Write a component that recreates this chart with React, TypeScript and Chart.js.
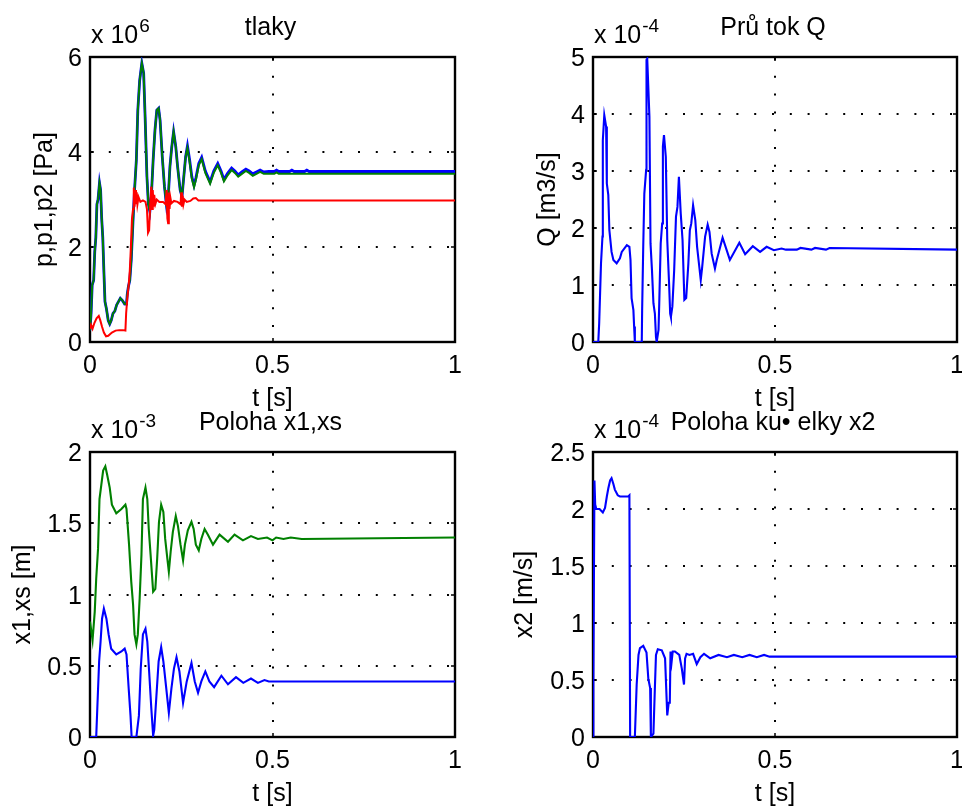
import React, { useEffect, useRef } from "react";
import { Chart, registerables } from "chart.js";
Chart.register(...registerables);

const FONT = '"Liberation Sans", Arial, Helvetica, sans-serif';

// ---- tlaky (x 10^6 Pa) ----
const pT = [0, 0.003, 0.006, 0.01, 0.013, 0.016, 0.019, 0.022, 0.026, 0.029, 0.032, 0.035, 0.038, 0.041, 0.045, 0.05, 0.054, 0.058, 0.063, 0.068, 0.073, 0.078, 0.083, 0.089, 0.095, 0.1, 0.102, 0.105, 0.109, 0.113, 0.118, 0.122, 0.127, 0.131, 0.136, 0.142, 0.147, 0.151, 0.156, 0.16, 0.164, 0.168, 0.173, 0.178, 0.183, 0.188, 0.192, 0.198, 0.204, 0.21, 0.214, 0.219, 0.224, 0.229, 0.235, 0.24, 0.247, 0.252, 0.257, 0.262, 0.267, 0.273, 0.279, 0.285, 0.29, 0.298, 0.306, 0.316, 0.329, 0.339, 0.35, 0.359, 0.367, 0.377, 0.388, 0.397, 0.406, 0.416, 0.427, 0.436, 0.446, 0.456, 0.466, 0.476, 0.49, 0.505, 0.511, 0.517, 0.547, 0.553, 0.559, 0.588, 0.594, 0.6, 1.0];
const pVals = [0.25, 0.6, 1.2, 1.3, 1.9, 2.2, 2.9, 3.0, 3.35, 3.2, 2.6, 2.2, 1.5, 0.85, 0.7, 0.45, 0.38, 0.45, 0.6, 0.65, 0.78, 0.85, 0.92, 0.87, 0.8, 0.8, 1.0, 1.16, 1.3, 1.73, 2.57, 3.2, 3.83, 4.88, 5.5, 5.87, 5.66, 4.74, 3.48, 2.9, 2.75, 3.06, 3.83, 4.46, 4.88, 4.92, 4.67, 3.9, 3.27, 2.85, 3.0, 3.69, 4.11, 4.43, 4.11, 3.69, 3.2, 3.06, 3.48, 3.9, 4.13, 3.83, 3.48, 3.3, 3.45, 3.76, 3.89, 3.6, 3.37, 3.6, 3.76, 3.6, 3.42, 3.55, 3.66, 3.6, 3.52, 3.58, 3.64, 3.6, 3.54, 3.58, 3.62, 3.58, 3.59, 3.59, 3.62, 3.59, 3.59, 3.62, 3.59, 3.59, 3.62, 3.59, 3.59];
const p1Vals = [0.25, 0.6, 1.2, 1.3, 1.9, 2.2, 2.9, 3.0, 3.35, 3.2, 2.6, 2.2, 1.5, 0.85, 0.7, 0.45, 0.38, 0.45, 0.6, 0.65, 0.78, 0.85, 0.92, 0.87, 0.8, 0.8, 1.0, 1.16, 1.3, 1.73, 2.57, 3.2, 3.83, 4.88, 5.5, 5.87, 5.66, 4.74, 3.48, 2.9, 2.75, 3.06, 3.83, 4.46, 4.88, 4.92, 4.67, 3.9, 3.27, 2.85, 3.0, 3.69, 4.11, 4.43, 4.11, 3.69, 3.2, 3.06, 3.48, 3.9, 4.09, 3.79, 3.44, 3.26, 3.41, 3.72, 3.85, 3.56, 3.33, 3.56, 3.72, 3.56, 3.38, 3.51, 3.62, 3.56, 3.48, 3.54, 3.6, 3.56, 3.5, 3.54, 3.58, 3.54, 3.54, 3.54, 3.57, 3.54, 3.54, 3.54, 3.54, 3.54, 3.54, 3.54, 3.54];
const p2T = [0, 0.003, 0.007, 0.012, 0.018, 0.024, 0.028, 0.033, 0.038, 0.044, 0.05, 0.06, 0.07, 0.08, 0.09, 0.097, 0.099, 0.102, 0.106, 0.109, 0.112, 0.115, 0.118, 0.12, 0.122, 0.124, 0.126, 0.128, 0.13, 0.133, 0.138, 0.145, 0.152, 0.156, 0.159, 0.162, 0.165, 0.168, 0.17, 0.172, 0.174, 0.176, 0.179, 0.183, 0.19, 0.2, 0.207, 0.21, 0.212, 0.214, 0.216, 0.218, 0.22, 0.223, 0.23, 0.24, 0.248, 0.25, 0.252, 0.254, 0.256, 0.259, 0.265, 0.275, 0.283, 0.29, 0.297, 1.0];
const p2Vals = [0.28, 0.36, 0.28, 0.4, 0.5, 0.55, 0.46, 0.32, 0.2, 0.12, 0.13, 0.2, 0.24, 0.25, 0.25, 0.24, 0.6, 0.9, 1.2, 1.5, 2.0, 2.6, 2.8, 3.25, 2.85, 3.2, 2.9, 3.15, 2.9, 3.05, 2.95, 2.98, 2.95, 2.8, 2.3, 2.35, 2.9, 3.27, 2.8, 3.2, 2.85, 3.1, 2.9, 3.0, 2.95, 2.95, 2.9, 3.2, 2.6, 2.5, 3.15, 2.8, 3.05, 2.92, 2.97, 2.95, 2.9, 3.15, 2.85, 3.08, 2.9, 3.0, 2.95, 2.97, 3.02, 3.03, 2.98, 2.98];

// ---- Průtok Q (x 10^-4 m3/s) ----
const qT = [0, 0.0145, 0.017, 0.022, 0.026, 0.027, 0.031, 0.036, 0.038, 0.042, 0.045, 0.051, 0.056, 0.065, 0.074, 0.079, 0.093, 0.1, 0.103, 0.106, 0.111, 0.113, 0.115, 0.134, 0.135, 0.138, 0.141, 0.146, 0.147, 0.149, 0.155, 0.158, 0.162, 0.166, 0.17, 0.173, 0.175, 0.18, 0.182, 0.186, 0.19, 0.192, 0.195, 0.2, 0.204, 0.209, 0.212, 0.214, 0.218, 0.223, 0.228, 0.232, 0.236, 0.241, 0.246, 0.251, 0.256, 0.262, 0.266, 0.27, 0.275, 0.281, 0.286, 0.292, 0.296, 0.3, 0.308, 0.315, 0.32, 0.326, 0.335, 0.34, 0.356, 0.376, 0.402, 0.418, 0.439, 0.459, 0.477, 0.497, 0.518, 0.53, 0.56, 0.57, 0.6, 0.61, 0.64, 0.65, 1.0];
const qVals = [0, 0, 0.33, 1.38, 1.85, 3.54, 3.98, 3.78, 2.78, 2.58, 1.96, 1.58, 1.44, 1.38, 1.47, 1.58, 1.7, 1.67, 1.44, 0.77, 0.56, 0.27, 0, 0, 0.56, 1.67, 2.6, 3.02, 4.95, 4.97, 3.95, 1.73, 1.26, 0.68, 0.5, 0.09, 0, 0.21, 0.68, 1.73, 2.08, 3.43, 3.63, 3.25, 1.79, 1.03, 0.5, 0.44, 0.62, 1.26, 2.2, 2.37, 2.9, 2.26, 1.79, 0.74, 0.77, 1.38, 1.96, 2.08, 2.4, 2.14, 1.67, 1.32, 1.09, 1.32, 1.85, 2.06, 1.93, 1.55, 1.29, 1.44, 1.83, 1.44, 1.74, 1.54, 1.68, 1.58, 1.67, 1.61, 1.64, 1.62, 1.62, 1.65, 1.62, 1.65, 1.62, 1.65, 1.62];

// ---- Poloha x1, xs (x 10^-3 m) ----
const x1T = [0, 0.017, 0.02, 0.025, 0.029, 0.033, 0.038, 0.045, 0.051, 0.058, 0.072, 0.086, 0.095, 0.1, 0.106, 0.111, 0.114, 0.127, 0.134, 0.139, 0.145, 0.152, 0.157, 0.162, 0.168, 0.173, 0.176, 0.182, 0.188, 0.195, 0.201, 0.209, 0.216, 0.223, 0.23, 0.237, 0.245, 0.255, 0.265, 0.278, 0.287, 0.296, 0.305, 0.316, 0.327, 0.34, 0.36, 0.378, 0.4, 0.42, 0.441, 0.46, 0.478, 0.49, 1.0];
const x1Vals = [0, 0, 0.2, 0.53, 0.67, 0.83, 0.9, 0.83, 0.72, 0.62, 0.58, 0.6, 0.62, 0.58, 0.34, 0.15, 0, 0, 0.15, 0.48, 0.72, 0.76, 0.67, 0.46, 0.2, 0.01, 0.05, 0.29, 0.53, 0.63, 0.53, 0.34, 0.17, 0.34, 0.48, 0.56, 0.46, 0.24, 0.39, 0.52, 0.39, 0.31, 0.39, 0.46, 0.39, 0.35, 0.43, 0.37, 0.42, 0.38, 0.41, 0.38, 0.4, 0.39, 0.39];
const xsT = [0, 0.007, 0.013, 0.017, 0.022, 0.026, 0.031, 0.036, 0.042, 0.047, 0.054, 0.06, 0.072, 0.086, 0.097, 0.1, 0.107, 0.113, 0.118, 0.122, 0.127, 0.131, 0.136, 0.141, 0.145, 0.152, 0.157, 0.161, 0.166, 0.173, 0.179, 0.184, 0.189, 0.195, 0.201, 0.206, 0.212, 0.216, 0.221, 0.227, 0.235, 0.241, 0.248, 0.255, 0.26, 0.268, 0.278, 0.284, 0.29, 0.298, 0.305, 0.314, 0.323, 0.337, 0.355, 0.378, 0.396, 0.419, 0.441, 0.46, 0.485, 0.5, 0.51, 0.53, 0.55, 0.58, 1.0];
const xsVals = [0.81, 0.68, 0.88, 1.11, 1.32, 1.67, 1.77, 1.87, 1.9, 1.84, 1.75, 1.63, 1.57, 1.6, 1.63, 1.6, 1.35, 1.09, 0.93, 0.72, 0.65, 0.72, 0.97, 1.28, 1.67, 1.75, 1.67, 1.46, 1.28, 1.02, 1.04, 1.25, 1.51, 1.63, 1.58, 1.39, 1.25, 1.16, 1.3, 1.44, 1.55, 1.48, 1.35, 1.24, 1.35, 1.45, 1.51, 1.46, 1.35, 1.31, 1.39, 1.46, 1.42, 1.35, 1.42, 1.37, 1.42, 1.38, 1.41, 1.39, 1.4, 1.38, 1.4, 1.39, 1.4, 1.39, 1.4];

// ---- Poloha kuželky x2 (x 10^-4) ----
const x2T = [0, 0.001, 0.004, 0.006, 0.009, 0.018, 0.027, 0.033, 0.038, 0.042, 0.047, 0.051, 0.056, 0.06, 0.068, 0.074, 0.097, 0.1, 0.102, 0.115, 0.12, 0.125, 0.129, 0.138, 0.147, 0.152, 0.157, 0.159, 0.166, 0.17, 0.173, 0.178, 0.189, 0.198, 0.204, 0.208, 0.211, 0.213, 0.216, 0.219, 0.225, 0.237, 0.244, 0.25, 0.253, 0.257, 0.265, 0.275, 0.285, 0.295, 0.305, 0.322, 0.345, 0.368, 0.387, 0.41, 0.43, 0.45, 0.47, 0.485, 1.0];
const x2Vals = [0, 0.5, 2.25, 2.04, 2.0, 2.0, 1.97, 2.01, 2.11, 2.18, 2.25, 2.27, 2.22, 2.17, 2.12, 2.11, 2.11, 2.12, 0, 0, 0.46, 0.72, 0.78, 0.8, 0.74, 0.51, 0.43, 0, 0.03, 0.43, 0.72, 0.77, 0.76, 0.69, 0.19, 0.3, 0.3, 0.75, 0.66, 0.75, 0.75, 0.72, 0.6, 0.46, 0.69, 0.73, 0.72, 0.73, 0.64, 0.7, 0.73, 0.69, 0.72, 0.7, 0.72, 0.7, 0.72, 0.7, 0.72, 0.705, 0.705];

const xTicks = [0, 0.5, 1];

type Series = { t: number[]; v: number[]; color: string; width: number; order: number };
type PanelCfg = {
  left: number; top: number; width: number; height: number;
  padTop: number; padRight: number; yAxisW: number; xAxisH: number;
  yMax: number; yStep: number;
  title: string; expo: string; ylabel: string; ylabelOff: number;
  series: Series[];
};

const BLUE = "#0000ff";
const GREEN = "#008000";
const RED = "#ff0000";

const panels: PanelCfg[] = [
  {
    left: 0, top: 0, width: 481, height: 420, padTop: 57, padRight: 26, yAxisW: 90, xAxisH: 78,
    yMax: 6, yStep: 2, title: "tlaky", expo: "6", ylabel: "p,p1,p2 [Pa]", ylabelOff: 38,
    series: [
      { t: pT, v: pVals, color: BLUE, width: 2.8, order: 3 },
      { t: pT, v: p1Vals, color: GREEN, width: 2.0, order: 2 },
      { t: p2T, v: p2Vals, color: RED, width: 2.0, order: 1 },
    ],
  },
  {
    left: 481, top: 0, width: 481, height: 420, padTop: 57, padRight: 5, yAxisW: 112, xAxisH: 78,
    yMax: 5, yStep: 1, title: "Prů tok Q", expo: "-4", ylabel: "Q [m3/s]", ylabelOff: 38,
    series: [{ t: qT, v: qVals, color: BLUE, width: 2.1, order: 1 }],
  },
  {
    left: 0, top: 400, width: 481, height: 407, padTop: 52, padRight: 26, yAxisW: 90, xAxisH: 70,
    yMax: 2, yStep: 0.5, title: "Poloha x1,xs", expo: "-3", ylabel: "x1,xs [m]", ylabelOff: 60,
    series: [
      { t: x1T, v: x1Vals, color: BLUE, width: 2.1, order: 2 },
      { t: xsT, v: xsVals, color: GREEN, width: 2.1, order: 1 },
    ],
  },
  {
    left: 481, top: 400, width: 481, height: 407, padTop: 52, padRight: 5, yAxisW: 112, xAxisH: 70,
    yMax: 2.5, yStep: 0.5, title: "Poloha ku\u2022 elky x2", expo: "-4", ylabel: "x2 [m/s]", ylabelOff: 61,
    series: [{ t: x2T, v: x2Vals, color: BLUE, width: 2.1, order: 1 }],
  },
];

const fmt = (v: number) => String(Math.round(v * 100) / 100);

function Panel({ cfg }: { cfg: PanelCfg }) {
  const ref = useRef<HTMLCanvasElement>(null);
  useEffect(() => {
    const canvas = ref.current;
    if (!canvas) return;
    const plugin = {
      id: "matlabAxes",
      beforeDatasetsDraw(chart: any) {
        const { ctx, chartArea: a, scales } = chart;
        const xs = scales.x;
        const ys = scales.y;
        ctx.save();
        ctx.strokeStyle = "#000";
        ctx.lineWidth = 2;
        ctx.setLineDash([2, 15.8]);
        ctx.lineDashOffset = -1;
        ys.ticks.forEach((t: any) => {
          if (t.value <= ys.min || t.value >= ys.max) return;
          const y = Math.round(ys.getPixelForValue(t.value));
          ctx.beginPath();
          ctx.moveTo(a.left, y);
          ctx.lineTo(a.right, y);
          ctx.stroke();
        });
        xs.ticks.forEach((t: any) => {
          if (t.value <= xs.min || t.value >= xs.max) return;
          const x = Math.round(xs.getPixelForValue(t.value));
          ctx.beginPath();
          ctx.moveTo(x, a.top);
          ctx.lineTo(x, a.bottom);
          ctx.stroke();
        });
        ctx.setLineDash([]);
        ctx.lineWidth = 2.4;
        ctx.strokeRect(a.left, a.top, a.right - a.left, a.bottom - a.top);
        ctx.lineWidth = 1.5;
        const tl = 4;
        ys.ticks.forEach((t: any) => {
          const y = Math.round(ys.getPixelForValue(t.value));
          ctx.beginPath();
          ctx.moveTo(a.left, y); ctx.lineTo(a.left + tl, y);
          ctx.moveTo(a.right, y); ctx.lineTo(a.right - tl, y);
          ctx.stroke();
        });
        xs.ticks.forEach((t: any) => {
          const x = Math.round(xs.getPixelForValue(t.value));
          ctx.beginPath();
          ctx.moveTo(x, a.bottom); ctx.lineTo(x, a.bottom - tl);
          ctx.moveTo(x, a.top); ctx.lineTo(x, a.top + tl);
          ctx.stroke();
        });
        ctx.restore();
      },
      afterDraw(chart: any) {
        const { ctx, chartArea: a, scales } = chart;
        const xs = scales.x;
        const ys = scales.y;
        ctx.save();
        ctx.fillStyle = "#000";
        ctx.font = `25px ${FONT}`;
        ctx.textAlign = "right";
        ctx.textBaseline = "alphabetic";
        ys.ticks.forEach((t: any) => {
          const y = ys.getPixelForValue(t.value);
          ctx.fillText(fmt(t.value), a.left - 8, y + 9);
        });
        ctx.textAlign = "center";
        xs.ticks.forEach((t: any) => {
          const x = xs.getPixelForValue(t.value);
          ctx.fillText(fmt(t.value), x, a.bottom + 31);
        });
        const cx = (a.left + a.right) / 2;
        const cy = (a.top + a.bottom) / 2;
        ctx.fillText("t [s]", cx, a.bottom + 64);
        ctx.fillText(cfg.title, cx - 2, a.top - 22);
        ctx.textAlign = "left";
        const base = "x 10";
        ctx.fillText(base, a.left + 1, a.top - 14);
        const w = ctx.measureText(base).width;
        ctx.font = `19px ${FONT}`;
        ctx.fillText(cfg.expo, a.left + 1 + w + 1, a.top - 25);
        ctx.font = `25px ${FONT}`;
        ctx.translate(a.left - cfg.ylabelOff, cy);
        ctx.rotate(-Math.PI / 2);
        ctx.textAlign = "center";
        ctx.fillText(cfg.ylabel, 0, 0);
        ctx.restore();
      },
    };
    const chart = new Chart(canvas, {
      type: "line",
      data: {
        datasets: cfg.series.map((s) => ({
          data: s.t.map((t, i) => ({ x: t, y: s.v[i] })),
          borderColor: s.color,
          backgroundColor: s.color,
          borderWidth: s.width,
          pointRadius: 0,
          fill: false,
          tension: 0,
          order: s.order,
        })),
      },
      options: {
        responsive: false,
        animation: false,
        devicePixelRatio: 1,
        events: [],
        layout: { padding: { left: 0, top: cfg.padTop, right: cfg.padRight, bottom: 0 } },
        plugins: { legend: { display: false }, tooltip: { enabled: false }, title: { display: false } },
        scales: {
          x: {
            type: "linear", min: 0, max: 1,
            afterBuildTicks: (s: any) => { s.ticks = xTicks.map((v) => ({ value: v })); },
            ticks: { display: false },
            grid: { display: false },
            border: { display: false },
            afterFit: (s: any) => { s.height = cfg.xAxisH; },
          },
          y: {
            type: "linear", min: 0, max: cfg.yMax,
            ticks: { display: false, stepSize: cfg.yStep },
            grid: { display: false },
            border: { display: false },
            afterFit: (s: any) => { s.width = cfg.yAxisW; },
          },
        },
      } as any,
      plugins: [plugin],
    });
    return () => chart.destroy();
  }, [cfg]);
  return (
    <canvas
      ref={ref}
      width={cfg.width}
      height={cfg.height}
      style={{ position: "absolute", left: cfg.left, top: cfg.top, width: cfg.width, height: cfg.height, display: "block" }}
    />
  );
}

export default function App() {
  return (
    <div style={{ position: "absolute", left: 0, top: 0, width: 962, height: 807, background: "#fff", overflow: "hidden" }}>
      {panels.map((p, i) => (
        <Panel key={i} cfg={p} />
      ))}
    </div>
  );
}
